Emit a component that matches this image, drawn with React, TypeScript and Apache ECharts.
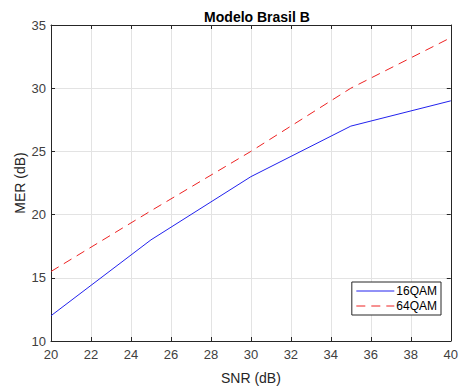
import React, { useEffect, useRef } from "react";
import * as echarts from "echarts";

const snr = [20, 25, 30, 35, 40];
const mer16 = [12, 18, 23, 27, 29];
const mer64 = [15.5, 20.3, 25, 30, 34];
const seriesNames = ["16QAM", "64QAM"];
const titleText = "Modelo Brasil B";
const xName = "SNR (dB)";
const yName = "MER (dB)";

const FONT = "'Liberation Sans', Arial, Helvetica, sans-serif";
const AX = "#262626";

export default function App() {
  const ref = useRef<HTMLDivElement>(null);
  useEffect(() => {
    document.body.style.margin = "0";
    const chart = echarts.init(ref.current!, undefined, { renderer: "svg" });
    const pair = (ys: number[]) => snr.map((x, i) => [x, ys[i]]);
    const baseX = {
      type: "value" as const,
      min: 20,
      max: 40,
      interval: 2,
    };
    const baseY = {
      type: "value" as const,
      min: 10,
      max: 35,
      interval: 5,
    };
    chart.setOption({
      animation: false,
      backgroundColor: "#ffffff",
      textStyle: { fontFamily: FONT },
      title: {
        text: titleText,
        left: 252,
        textAlign: "center",
        top: 5,
        textStyle: { fontFamily: FONT, fontSize: 14, fontWeight: "bold", color: "#000" },
      },
      grid: { left: 51, top: 25, right: 8, bottom: 47 },
      legend: {
        orient: "vertical",
        right: 20,
        bottom: 75,
        width: 89,
        itemWidth: 38,
        itemHeight: 10,
        itemGap: 3,
        padding: [3, 4, 3, 4],
        borderColor: AX,
        borderWidth: 1,
        borderRadius: 0,
        backgroundColor: "#fff",
        itemStyle: { opacity: 0 },
        lineStyle: { width: 1 },
        textStyle: { fontFamily: FONT, fontSize: 12, color: "#000", padding: [0, 0, 0, -3] },
        data: seriesNames,
      },
      xAxis: [
        {
          ...baseX,
          position: "bottom",
          name: xName,
          nameLocation: "middle",
          nameGap: 30,
          nameMoveOverlap: false,
          nameTextStyle: { fontFamily: FONT, fontSize: 14, color: AX },
          axisLine: { show: true, lineStyle: { color: AX, width: 1 } },
          axisTick: { show: true, inside: true, length: 4, lineStyle: { color: AX } },
          axisLabel: { fontFamily: FONT, fontSize: 13, color: "#404040", margin: 7 },
          splitLine: { show: true, lineStyle: { color: "#e3e3e3", width: 1 } },
        },
        {
          ...baseX,
          position: "top",
          axisLine: { show: true, lineStyle: { color: AX, width: 1 } },
          axisTick: { show: true, inside: true, length: 4, lineStyle: { color: AX } },
          axisLabel: { show: false },
          splitLine: { show: false },
        },
      ],
      yAxis: [
        {
          ...baseY,
          position: "left",
          name: yName,
          nameLocation: "middle",
          nameGap: 24,
          nameMoveOverlap: false,
          nameTextStyle: { fontFamily: FONT, fontSize: 14, color: AX },
          axisLine: { show: true, lineStyle: { color: AX, width: 1 } },
          axisTick: { show: true, inside: true, length: 4, lineStyle: { color: AX } },
          axisLabel: { fontFamily: FONT, fontSize: 13, color: "#404040", margin: 5 },
          splitLine: { show: true, lineStyle: { color: "#e3e3e3", width: 1 } },
        },
        {
          ...baseY,
          position: "right",
          axisLine: { show: true, lineStyle: { color: AX, width: 1 } },
          axisTick: { show: true, inside: true, length: 4, lineStyle: { color: AX } },
          axisLabel: { show: false },
          splitLine: { show: false },
        },
      ],
      series: [
        {
          name: seriesNames[0],
          type: "line",
          data: pair(mer16),
          symbol: "none",
          lineStyle: { color: "#2222ee", width: 1 },
          itemStyle: { color: "#2222ee" },
        },
        {
          name: seriesNames[1],
          type: "line",
          data: pair(mer64),
          symbol: "none",
          lineStyle: { color: "#ee2222", width: 1, type: [9, 6] },
          itemStyle: { color: "#ee2222" },
        },
      ],
    });
    return () => chart.dispose();
  }, []);
  return <div ref={ref} style={{ width: 461, height: 390 }} />;
}
